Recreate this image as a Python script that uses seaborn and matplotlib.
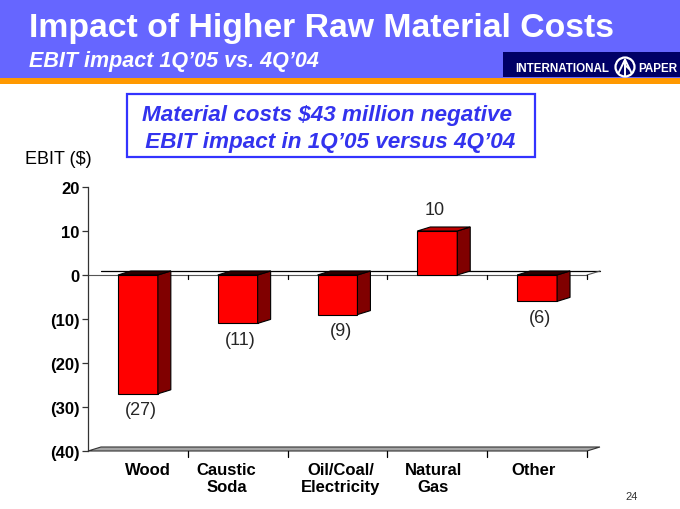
import matplotlib
matplotlib.use("Agg")
import matplotlib.pyplot as plt
import seaborn as sns
import pandas as pd
from matplotlib.patches import Polygon, Rectangle, Circle
from matplotlib.transforms import offset_copy

# ---- data ----
categories = ["Wood", "Caustic\nSoda", "Oil/Coal/\nElectricity", "Natural\nGas", "Other"]
values = [-27, -11, -9, 10, -6]
value_labels = ["(27)", "(11)", "(9)", "10", "(6)"]
yticks = [-40, -30, -20, -10, 0, 10, 20]
ytick_labels = ["(40)", "(30)", "(20)", "(10)", "0", "10", "20"]

title = "Impact of Higher Raw Material Costs"
subtitle = "EBIT impact 1Q\u201905 vs. 4Q\u201904"
callout = "Material costs $43 million negative\n EBIT impact in 1Q\u201905 versus 4Q\u201904"
ylabel = "EBIT ($)"
page = "24"

sns.set_theme(style="white")
plt.rcParams['font.family'] = ['Liberation Sans', 'DejaVu Sans']

W, H = 680, 510
fig = plt.figure(figsize=(6.8, 5.1), dpi=100)
fig.patch.set_facecolor("white")

# background / decoration axes in pixel coordinates
bg = fig.add_axes([0, 0, 1, 1])
bg.set_xlim(0, W)
bg.set_ylim(H, 0)
bg.axis("off")
bg.add_patch(Rectangle((0, 0), W, 79, color="#6666FF", lw=0))
bg.add_patch(Rectangle((0, 79), W, 6, color="#FF9900", lw=0))
bg.add_patch(Rectangle((503, 53), W - 503, 25, color="#000066", lw=0))
bg.text(29, 29, title, color="white", fontsize=24.3, fontweight="bold", va="center", ha="left")
bg.text(29, 61, subtitle, color="white", fontsize=15.5, fontweight="bold", fontstyle="italic",
        va="center", ha="left")
bg.text(515, 68.5, "INTERNATIONAL", color="white", fontsize=8.4, fontweight="bold", va="center", ha="left")
bg.text(638, 68.5, "PAPER", color="white", fontsize=8.4, fontweight="bold", va="center", ha="left")
bg.add_patch(Circle((625, 68), 9.5, fill=False, ec="white", lw=1.6))
bg.plot([618.5, 625, 631.5], [74, 60.5, 74], color="white", lw=1.4)
bg.plot([625, 625], [60.5, 77], color="white", lw=1.4)
bg.plot([625, 629], [66, 70], color="white", lw=1.2)

# callout box
bg.add_patch(Rectangle((127, 95), 408, 63, fill=False, ec="#3333FF", lw=1.6))
bg.text(327, 129, callout, color="#3333EE", fontsize=16.2, fontweight="bold", fontstyle="italic",
        ha="center", va="center", linespacing=1.35)
bg.text(58, 160, ylabel, color="black", fontsize=13, ha="center", va="center")
bg.text(632, 497, page, color="#333333", fontsize=8, ha="center", va="center")

# ---- main chart ----
ax = fig.add_axes([88 / W, (H - 452) / H, 499 / W, 264 / H])
df = pd.DataFrame({"category": categories, "value": values})
sns.barplot(data=df, x="category", y="value", color="#FF0000", saturation=1, width=0.4,
            edgecolor="black", linewidth=0.8, ax=ax, zorder=4)
ax.set_xlim(-0.5, 4.5)
ax.set_ylim(-40, 20)
ax.set_facecolor("none")

dx, dy = 0.13, 0.91  # depth offset in data units (~13px, ~4px)

# floor
ax.add_patch(Polygon([(-0.5, -40), (4.5, -40), (4.5 + dx, -40 + dy), (-0.5 + dx, -40 + dy)],
                     closed=True, fc="#A6A6A6", ec="#333333", lw=0.8, clip_on=False, zorder=1))
# zero lines (back and front)
ax.plot([-0.5 + dx, 4.5 + dx], [dy, dy], color="black", lw=0.9, clip_on=False, zorder=1)
ax.plot([-0.5, 4.5], [0, 0], color="#555555", lw=0.8, clip_on=False, zorder=1)
ax.plot([4.5, 4.5 + dx], [0, dy], color="#555555", lw=0.8, clip_on=False, zorder=1)
for b in [0.5, 1.5, 2.5, 3.5, 4.5]:
    ax.plot([b, b], [0, -0.9], color="black", lw=0.9, clip_on=False, zorder=1)
    ax.plot([b, b], [-40, -41.3], color="black", lw=0.9, clip_on=False, zorder=1)

# 3D faces of bars
for p in list(ax.patches):
    if not isinstance(p, Rectangle) or p.get_width() > 1:
        continue
    x0, w = p.get_x(), p.get_width()
    y0, h = p.get_y(), p.get_height()
    top, bot = max(y0, y0 + h), min(y0, y0 + h)
    ax.add_patch(Polygon([(x0 + w, bot), (x0 + w + dx, bot + dy), (x0 + w + dx, top + dy), (x0 + w, top)],
                         closed=True, fc="#800000", ec="black", lw=0.8, zorder=4))
    topc = "#C00000" if (y0 + h) > 0 else "#2A0000"
    ax.add_patch(Polygon([(x0, top), (x0 + dx, top + dy), (x0 + w + dx, top + dy), (x0 + w, top)],
                         closed=True, fc=topc, ec="black", lw=0.8, zorder=4))

# value labels
for i, (v, lab) in enumerate(zip(values, value_labels)):
    if v >= 0:
        ax.annotate(lab, (i, v), xytext=(-3, 21), textcoords="offset pixels",
                    ha="center", va="center", fontsize=13)
    else:
        ax.annotate(lab, (i, v), xytext=(3, -16), textcoords="offset pixels",
                    ha="center", va="center", fontsize=13)

# axes styling
for s in ["top", "right", "bottom"]:
    ax.spines[s].set_visible(False)
ax.spines["left"].set_color("#333333")
ax.spines["left"].set_linewidth(0.9)
ax.set_yticks(yticks)
ax.set_yticklabels(ytick_labels, fontsize=12, fontweight="bold")
ax.tick_params(axis="y", left=True, length=4, width=0.9, color="#333333", pad=2, labelcolor="black")
ax.set_xticks(range(len(categories)))
ax.set_xticklabels(categories, fontsize=12, fontweight="bold", linespacing=1.15)
ax.tick_params(axis="x", bottom=False, length=0, pad=8, labelcolor="black")
label_shift = [10, -11, 3, -4, -4]
for lab, sh in zip(ax.get_xticklabels(), label_shift):
    lab.set_transform(offset_copy(lab.get_transform(), fig=fig, x=sh, y=0, units="dots"))
ax.set_xlabel("")
ax.set_ylabel("")
ax.grid(False)

fig.savefig("out.png", dpi=100)
